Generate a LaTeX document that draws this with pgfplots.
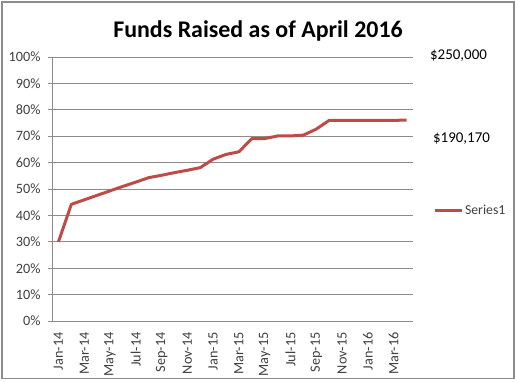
\documentclass[border=0pt]{standalone}
\usepackage{pgfplots}
\pgfplotsset{compat=1.18}
\usepackage{fontspec}
\setmainfont{Carlito}
\definecolor{serred}{HTML}{BE4B48}
\definecolor{gridgray}{HTML}{8C8C8C}
\definecolor{labgray}{HTML}{404040}
\begin{document}
\begin{tikzpicture}[x=1bp,y=1bp]
\useasboundingbox (0,0) rectangle (516,381);
\draw[gridgray, line width=1.2bp] (2,2.5) rectangle (514,379);
\node[font=\fontsize{24}{28}\selectfont\bfseries, text=black] at (258,350) {Funds Raised as of April 2016};
\begin{axis}[
  at={(52bp,60bp)}, anchor=origin,
  scale only axis, width=361bp, height=264bp,
  xmin=0, xmax=28, ymin=0, ymax=100,
  axis x line*=bottom, axis y line*=left,
  axis line style={gridgray, line width=0.8bp},
  ytick={0,10,...,100},
  yticklabel={\pgfmathprintnumber{\tick}\%},
  ymajorgrids, grid style={gridgray, line width=0.8bp},
  major tick length=4bp, tick align=outside,
  tick style={gridgray, line width=0.8bp},
  xtick={0.5,2.5,...,26.5},
  xticklabels={Jan-14,Mar-14,May-14,Jul-14,Sep-14,Nov-14,Jan-15,Mar-15,May-15,Jul-15,Sep-15,Nov-15,Jan-16,Mar-16},
  x tick label style={rotate=90, anchor=east, xshift=-4bp},
  xtick style={draw=none},
  extra x ticks={0,2,...,28}, extra x tick labels={},
  extra x tick style={xtick style={gridgray, line width=0.8bp}, grid=none, major tick length=4bp},
  ticklabel style={font=\fontsize{14.3}{16}\selectfont, text=labgray},
  /pgf/number format/assume math mode=true,
  yticklabel style={xshift=-4bp},
  clip=false,
  legend style={draw=none, fill=none, at={(axis description cs:1.055,0.418)}, anchor=west, inner sep=0pt, font=\fontsize{13.8}{15}\selectfont, text=labgray, cells={anchor=west}},
  legend image code/.code={\draw[#1, line width=3bp] (0bp,0bp) -- (27bp,0bp);},
]
\addplot[serred, line width=3bp, line join=round] coordinates {
(0.5,30.0) (1.5,44.2) (2.5,45.9) (3.5,47.6) (4.5,49.3) (5.5,51.0) (6.5,52.6) (7.5,54.3)
(8.5,55.2) (9.5,56.2) (10.5,57.1) (11.5,58.1) (12.5,61.3) (13.5,63.1) (14.5,64.1) (15.5,69.1)
(16.5,69.1) (17.5,70.1) (18.5,70.1) (19.5,70.4) (20.5,72.7) (21.5,76.0) (22.5,76.0) (23.5,76.0)
(24.5,76.0) (25.5,76.0) (26.5,76.0) (27.5,76.1)
};
\addlegendentry{Series1}
\end{axis}
\node[font=\fontsize{15}{17}\selectfont, text=black] at (458.5,325) {\$250,000};
\node[font=\fontsize{15}{17}\selectfont, text=black] at (461.5,242) {\$190,170};
\end{tikzpicture}
\end{document}
